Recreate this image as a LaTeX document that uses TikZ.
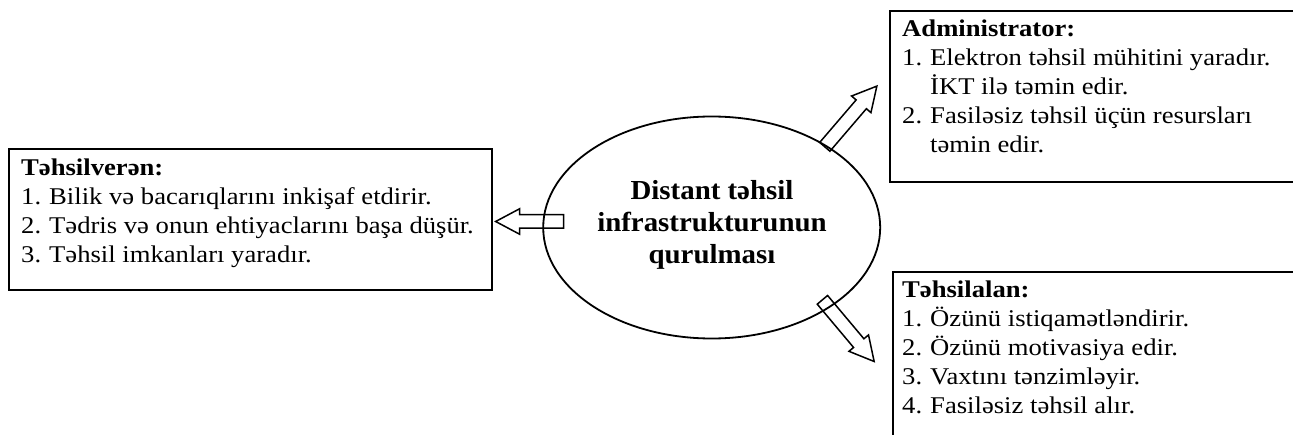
\documentclass[tikz,border=0pt]{standalone}
\usepackage{fontspec}
\setmainfont{Liberation Serif}[FakeStretch=1.11]
\newfontfamily\ellfont{Liberation Serif}[FakeStretch=1.05]
\usetikzlibrary{shapes.geometric,shapes.arrows}
\tikzset{
  box/.style={draw=black, line width=2.2pt, anchor=north west, inner sep=0pt},
  boxtext/.style={anchor=base west, inner sep=0pt, font=\fontsize{24}{29}\selectfont},
  blockarrow/.style={draw=black, line width=1.5pt, fill=white, single arrow, inner sep=6pt,
    single arrow head extend=6pt, single arrow tip angle=56},
}
\newcommand{\numitem}[1]{\makebox[28pt][l]{#1}}
\begin{document}
\begin{tikzpicture}[x=1pt,y=-1pt]
\useasboundingbox (0,0) rectangle (1293,435);
% left box
\node[box, minimum width=483pt, minimum height=141pt] (lbox) at (8,148) {};
\node[boxtext] (ltext) at (21,176) {\begin{tabular}[t]{@{}l@{}}
\textbf{Təhsilverən:}\\
\numitem{1.}Bilik və bacarıqlarını inkişaf etdirir.\\
\numitem{2.}Tədris və onun ehtiyaclarını başa düşür.\\
\numitem{3.}Təhsil imkanları yaradır.\end{tabular}};
% top right box
\node[box, minimum width=420pt, minimum height=171pt] (tbox) at (889,10) {};
\node[boxtext] (ttext) at (902,37) {\begin{tabular}[t]{@{}l@{}}
\textbf{Administrator:}\\
\numitem{1.}Elektron təhsil mühitini yaradır.\\
\numitem{}İKT ilə təmin edir.\\
\numitem{2.}Fasiləsiz təhsil üçün resursları\\
\numitem{}təmin edir.\end{tabular}};
% bottom right box
\node[box, minimum width=420pt, minimum height=180pt] (bbox) at (892,271) {};
\node[boxtext] (btext) at (902,298) {\begin{tabular}[t]{@{}l@{}}
\textbf{Təhsilalan:}\\
\numitem{1.}Özünü istiqamətləndirir.\\
\numitem{2.}Özünü motivasiya edir.\\
\numitem{3.}Vaxtını tənzimləyir.\\
\numitem{4.}Fasiləsiz təhsil alır.\end{tabular}};
% arrows
\node[blockarrow, minimum height=68pt, rotate=180] (aleft) at (536,221.5) {};
\node[blockarrow, minimum height=80pt, rotate=49.4] (aup) at (846.7,121.3) {};
\node[blockarrow, minimum height=80.5pt, rotate=-50] (adown) at (844.2,325.8) {};
% ellipse
\node[ellipse, draw=black, line width=1.8pt, minimum width=337pt, minimum height=222pt, inner sep=0pt] (ell) at (711.7,227.5) {};
\node[anchor=base, inner sep=0pt, font=\ellfont\bfseries\fontsize{27.5}{32}\selectfont] (etext) at (712,200) {\begin{tabular}[t]{@{}c@{}}Distant təhsil\\infrastrukturunun\\qurulması\end{tabular}};
\end{tikzpicture}
\end{document}
